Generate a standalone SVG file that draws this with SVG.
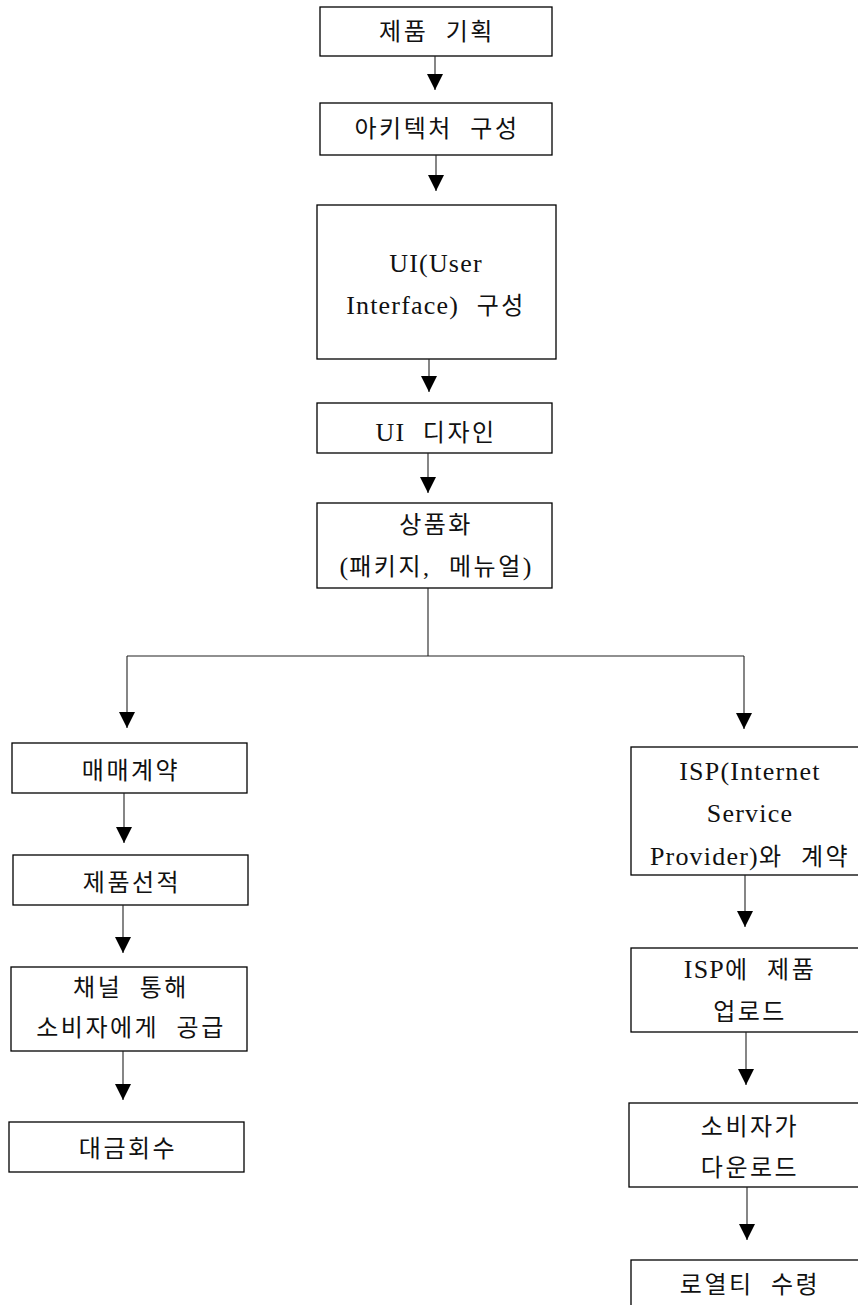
<svg xmlns="http://www.w3.org/2000/svg" width="858" height="1305" viewBox="0 0 858 1305">
  <style>
    .box { fill: #ffffff; stroke: #000000; stroke-width: 1.3; }
    .lbl { font-family: "Liberation Serif", "Noto Sans CJK KR", serif; font-size: 24px; letter-spacing: 2.5px; word-spacing: 9px; fill: #111111; text-anchor: middle; }
    .lat { font-family: "Liberation Serif", serif; font-size: 26px; letter-spacing: 1.2px; }
    .wire { fill: none; stroke: #222222; stroke-width: 1.1; }
  </style>
  <defs>
    <marker id="arrow" viewBox="0 0 16 16" refX="16" refY="8" markerWidth="16" markerHeight="16" markerUnits="userSpaceOnUse" orient="auto">
      <path d="M0,0 L16,8 L0,16 z" fill="#000000"/>
    </marker>
  </defs>
  <rect width="858" height="1305" fill="#ffffff"/>

  <!-- main column -->
  <g id="plan">
    <rect class="box" x="320" y="7" width="232" height="49"/>
    <text class="lbl" x="437" y="40">제품 기획</text>
  </g>
  <g id="architecture">
    <rect class="box" x="320" y="103" width="232" height="52"/>
    <text class="lbl" x="437" y="137">아키텍처 구성</text>
  </g>
  <g id="ui-structure">
    <rect class="box" x="317" y="205" width="239" height="154"/>
    <text class="lbl" x="436" y="272"><tspan class="lat">UI(User</tspan></text>
    <text class="lbl" x="436" y="314"><tspan class="lat">Interface)</tspan> 구성</text>
  </g>
  <g id="ui-design">
    <rect class="box" x="317" y="403" width="235" height="50"/>
    <text class="lbl" x="436" y="441"><tspan class="lat">UI</tspan> 디자인</text>
  </g>
  <g id="productize">
    <rect class="box" x="317" y="503" width="235" height="85"/>
    <text class="lbl" x="436" y="533">상품화</text>
    <text class="lbl" x="436" y="575"><tspan class="lat">(</tspan>패키지, 메뉴얼<tspan class="lat">)</tspan></text>
  </g>

  <!-- offline channel -->
  <g id="sales-contract">
    <rect class="box" x="12" y="743" width="235" height="50"/>
    <text class="lbl" x="131" y="779">매매계약</text>
  </g>
  <g id="shipping">
    <rect class="box" x="13" y="855" width="235" height="50"/>
    <text class="lbl" x="132" y="891">제품선적</text>
  </g>
  <g id="supply">
    <rect class="box" x="11" y="967" width="236" height="84"/>
    <text class="lbl" x="131" y="996">채널 통해</text>
    <text class="lbl" x="131" y="1036">소비자에게 공급</text>
  </g>
  <g id="collection">
    <rect class="box" x="9" y="1122" width="235" height="50"/>
    <text class="lbl" x="128" y="1157">대금회수</text>
  </g>

  <!-- online channel -->
  <g id="isp-contract">
    <rect class="box" x="631" y="747" width="240" height="128"/>
    <text class="lbl" x="750" y="780"><tspan class="lat">ISP(Internet</tspan></text>
    <text class="lbl" x="750" y="822"><tspan class="lat">Service</tspan></text>
    <text class="lbl" x="750" y="865"><tspan class="lat">Provider)</tspan>와 계약</text>
  </g>
  <g id="upload">
    <rect class="box" x="631" y="948" width="240" height="84"/>
    <text class="lbl" x="750" y="978"><tspan class="lat">ISP</tspan>에 제품</text>
    <text class="lbl" x="750" y="1020">업로드</text>
  </g>
  <g id="download">
    <rect class="box" x="629" y="1103" width="242" height="84"/>
    <text class="lbl" x="750" y="1135">소비자가</text>
    <text class="lbl" x="750" y="1176">다운로드</text>
  </g>
  <g id="royalty">
    <rect class="box" x="631" y="1260" width="240" height="60"/>
    <text class="lbl" x="750" y="1293">로열티 수령</text>
  </g>

  <g id="connectors">
    <line class="wire" x1="435" y1="56" x2="435" y2="90" marker-end="url(#arrow)"/>
    <line class="wire" x1="436" y1="155" x2="436" y2="191" marker-end="url(#arrow)"/>
    <line class="wire" x1="429" y1="359" x2="429" y2="392" marker-end="url(#arrow)"/>
    <line class="wire" x1="428" y1="453" x2="428" y2="493" marker-end="url(#arrow)"/>
    <polyline class="wire" points="428,588 428,656"/>
    <polyline class="wire" points="127,656 744,656"/>
    <line class="wire" x1="127" y1="656" x2="127" y2="728" marker-end="url(#arrow)"/>
    <line class="wire" x1="744" y1="656" x2="744" y2="729" marker-end="url(#arrow)"/>
    <line class="wire" x1="124" y1="793" x2="124" y2="843" marker-end="url(#arrow)"/>
    <line class="wire" x1="123" y1="905" x2="123" y2="953" marker-end="url(#arrow)"/>
    <line class="wire" x1="123" y1="1051" x2="123" y2="1100" marker-end="url(#arrow)"/>
    <line class="wire" x1="745" y1="875" x2="745" y2="927" marker-end="url(#arrow)"/>
    <line class="wire" x1="746" y1="1032" x2="746" y2="1085" marker-end="url(#arrow)"/>
    <line class="wire" x1="747" y1="1187" x2="747" y2="1240" marker-end="url(#arrow)"/>
  </g>
</svg>
